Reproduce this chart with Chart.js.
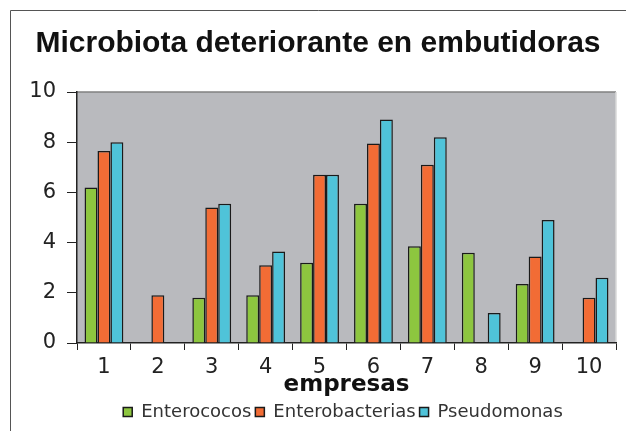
<!DOCTYPE html>
<html>
<head>
<meta charset="utf-8">
<script src="https://cdn.jsdelivr.net/npm/chart.js"></script>
<style>
  body { margin: 0; background: #fff; }
  #wrap { width: 626px; height: 431px; }
</style>
</head>
<body>
<div id="wrap"><canvas id="chart" width="626" height="431"></canvas></div>
<script>
const empresas = ['1', '2', '3', '4', '5', '6', '7', '8', '9', '10'];
const enterococos = [6.2, null, 1.8, 1.9, 3.2, 5.55, 3.85, 3.6, 2.35, null];
const enterobacterias = [7.65, 1.9, 5.4, 3.1, 6.7, 7.95, 7.1, null, 3.45, 1.8];
const pseudomonas = [8.0, null, 5.55, 3.65, 6.7, 8.9, 8.2, 1.2, 4.9, 2.6];

// gray plot background + page frame
const backdrop = {
  id: 'backdrop',
  afterLayout(chart) {
    // legend sits under the plot, not the whole canvas
    chart.legend.left += 25;
    chart.legend.right += 25;
  },
  beforeDraw(chart) {
    const { ctx, chartArea: a } = chart;
    ctx.save();
    ctx.fillStyle = '#b9babe';
    ctx.fillRect(a.left, a.top, a.right - a.left, a.bottom - a.top);
    ctx.strokeStyle = '#808080';
    ctx.lineWidth = 1.5;
    ctx.beginPath();
    ctx.moveTo(a.left, a.top);
    ctx.lineTo(a.right, a.top);
    ctx.stroke();
    ctx.strokeStyle = '#d8d8d8';
    ctx.beginPath();
    ctx.moveTo(a.right, a.top);
    ctx.lineTo(a.right, a.bottom);
    ctx.stroke();
    ctx.strokeStyle = '#555';
    ctx.lineWidth = 1;
    ctx.beginPath();
    ctx.moveTo(10.5, 431);
    ctx.lineTo(10.5, 10.5);
    ctx.lineTo(626, 10.5);
    ctx.stroke();
    ctx.restore();
  }
};

const barStyle = { borderColor: '#1a1a1a', borderWidth: 1.5, borderSkipped: 'bottom' };

new Chart(document.getElementById('chart'), {
  type: 'bar',
  data: {
    labels: empresas,
    datasets: [
      { label: 'Enterococos', data: enterococos, backgroundColor: '#8dc63f', ...barStyle },
      { label: 'Enterobacterias', data: enterobacterias, backgroundColor: '#f26c35', ...barStyle },
      { label: 'Pseudomonas', data: pseudomonas, backgroundColor: '#4fc3d9', ...barStyle }
    ]
  },
  options: {
    responsive: false,
    animation: false,
    categoryPercentage: 0.72,
    barPercentage: 1.0,
    layout: { padding: { top: 10, left: 20, right: 10, bottom: 0 } },
    plugins: {
      title: {
        display: true,
        text: 'Microbiota deteriorante en embutidoras',
        color: '#111',
        font: { family: 'Liberation Sans', size: 30, weight: 'bold' },
        padding: { top: 16, bottom: 30 }
      },
      legend: {
        position: 'bottom',
        labels: {
          boxWidth: 9,
          boxHeight: 9,
          padding: 4,
          color: '#333',
          font: { family: 'DejaVu Sans', size: 18 }
        }
      },
      tooltip: { enabled: false }
    },
    scales: {
      x: {
        grid: { display: true, drawOnChartArea: false, drawTicks: true, tickLength: 7, color: '#222', offset: true },
        border: { display: true, color: '#222', width: 1.5 },
        ticks: { color: '#222', padding: 5, font: { family: 'DejaVu Sans', size: 21 } },
        title: {
          display: true,
          text: 'empresas',
          color: '#111',
          padding: 0,
          font: { family: 'DejaVu Sans', size: 23, weight: 'bold' }
        },
        afterFit(scale) { scale.height = 56; }
      },
      y: {
        min: 0,
        max: 10,
        ticks: { stepSize: 2, color: '#222', padding: 11, font: { family: 'DejaVu Sans', size: 21 } },
        grid: { display: true, drawOnChartArea: false, drawTicks: true, tickLength: 10, color: '#222' },
        border: { display: true, color: '#222', width: 1.5 },
        afterFit(scale) { scale.width = 57; }
      }
    }
  },
  plugins: [backdrop]
});
</script>
</body>
</html>
